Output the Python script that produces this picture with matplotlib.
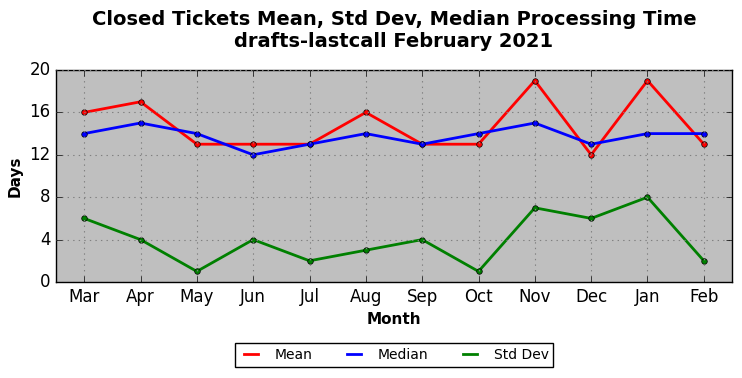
import matplotlib
matplotlib.use('Agg')
import matplotlib.pyplot as plt
from matplotlib.lines import Line2D

months = ['Mar', 'Apr', 'May', 'Jun', 'Jul', 'Aug', 'Sep', 'Oct', 'Nov', 'Dec', 'Jan', 'Feb']
mean = [16, 17, 13, 13, 13, 16, 13, 13, 19, 12, 19, 13]
median = [14, 15, 14, 12, 13, 14, 13, 14, 15, 13, 14, 14]
std_dev = [6, 4, 1, 4, 2, 3, 4, 1, 7, 6, 8, 2]

plt.style.use('classic')
fig = plt.figure(figsize=(7.42, 3.78), dpi=100)
ax = fig.add_axes([56 / 742, 1 - 282 / 378, (732 - 56) / 742, (282 - 70) / 378])
ax.set_facecolor('#bfbfbf')

x = list(range(len(months)))
series = [(mean, 'red', 'Mean'), (median, 'blue', 'Median'), (std_dev, 'green', 'Std Dev')]
handles = []
for vals, col, name in series:
    ax.plot(x, vals, color=col, lw=2, marker='o', ms=4)
    handles.append(Line2D([], [], color=col, lw=2, label=name))

ax.set_xlim(-0.5, len(months) - 0.5)
ax.set_ylim(0, 20)
ax.set_yticks([0, 4, 8, 12, 16, 20])
ax.set_xticks(x)
ax.set_xticklabels(months)
ax.grid(True, color='gray', linestyle=':', linewidth=0.8)
ax.tick_params(labelsize=12)

ax.set_xlabel('Month', fontsize=11, fontweight='bold')
ax.set_ylabel('Days', fontsize=11, fontweight='bold')
ax.set_title('Closed Tickets Mean, Std Dev, Median Processing Time\ndrafts-lastcall February 2021',
             fontsize=14, fontweight='bold', y=1.074)

ax.legend(handles=handles, loc='upper center', ncol=3,
          bbox_to_anchor=(0.5, -0.257), fontsize=10, frameon=True,
          fancybox=False, columnspacing=2.2, handlelength=1.65,
          handletextpad=0.86, borderpad=0.35)

fig.savefig('out.png', dpi=100, facecolor='white')
